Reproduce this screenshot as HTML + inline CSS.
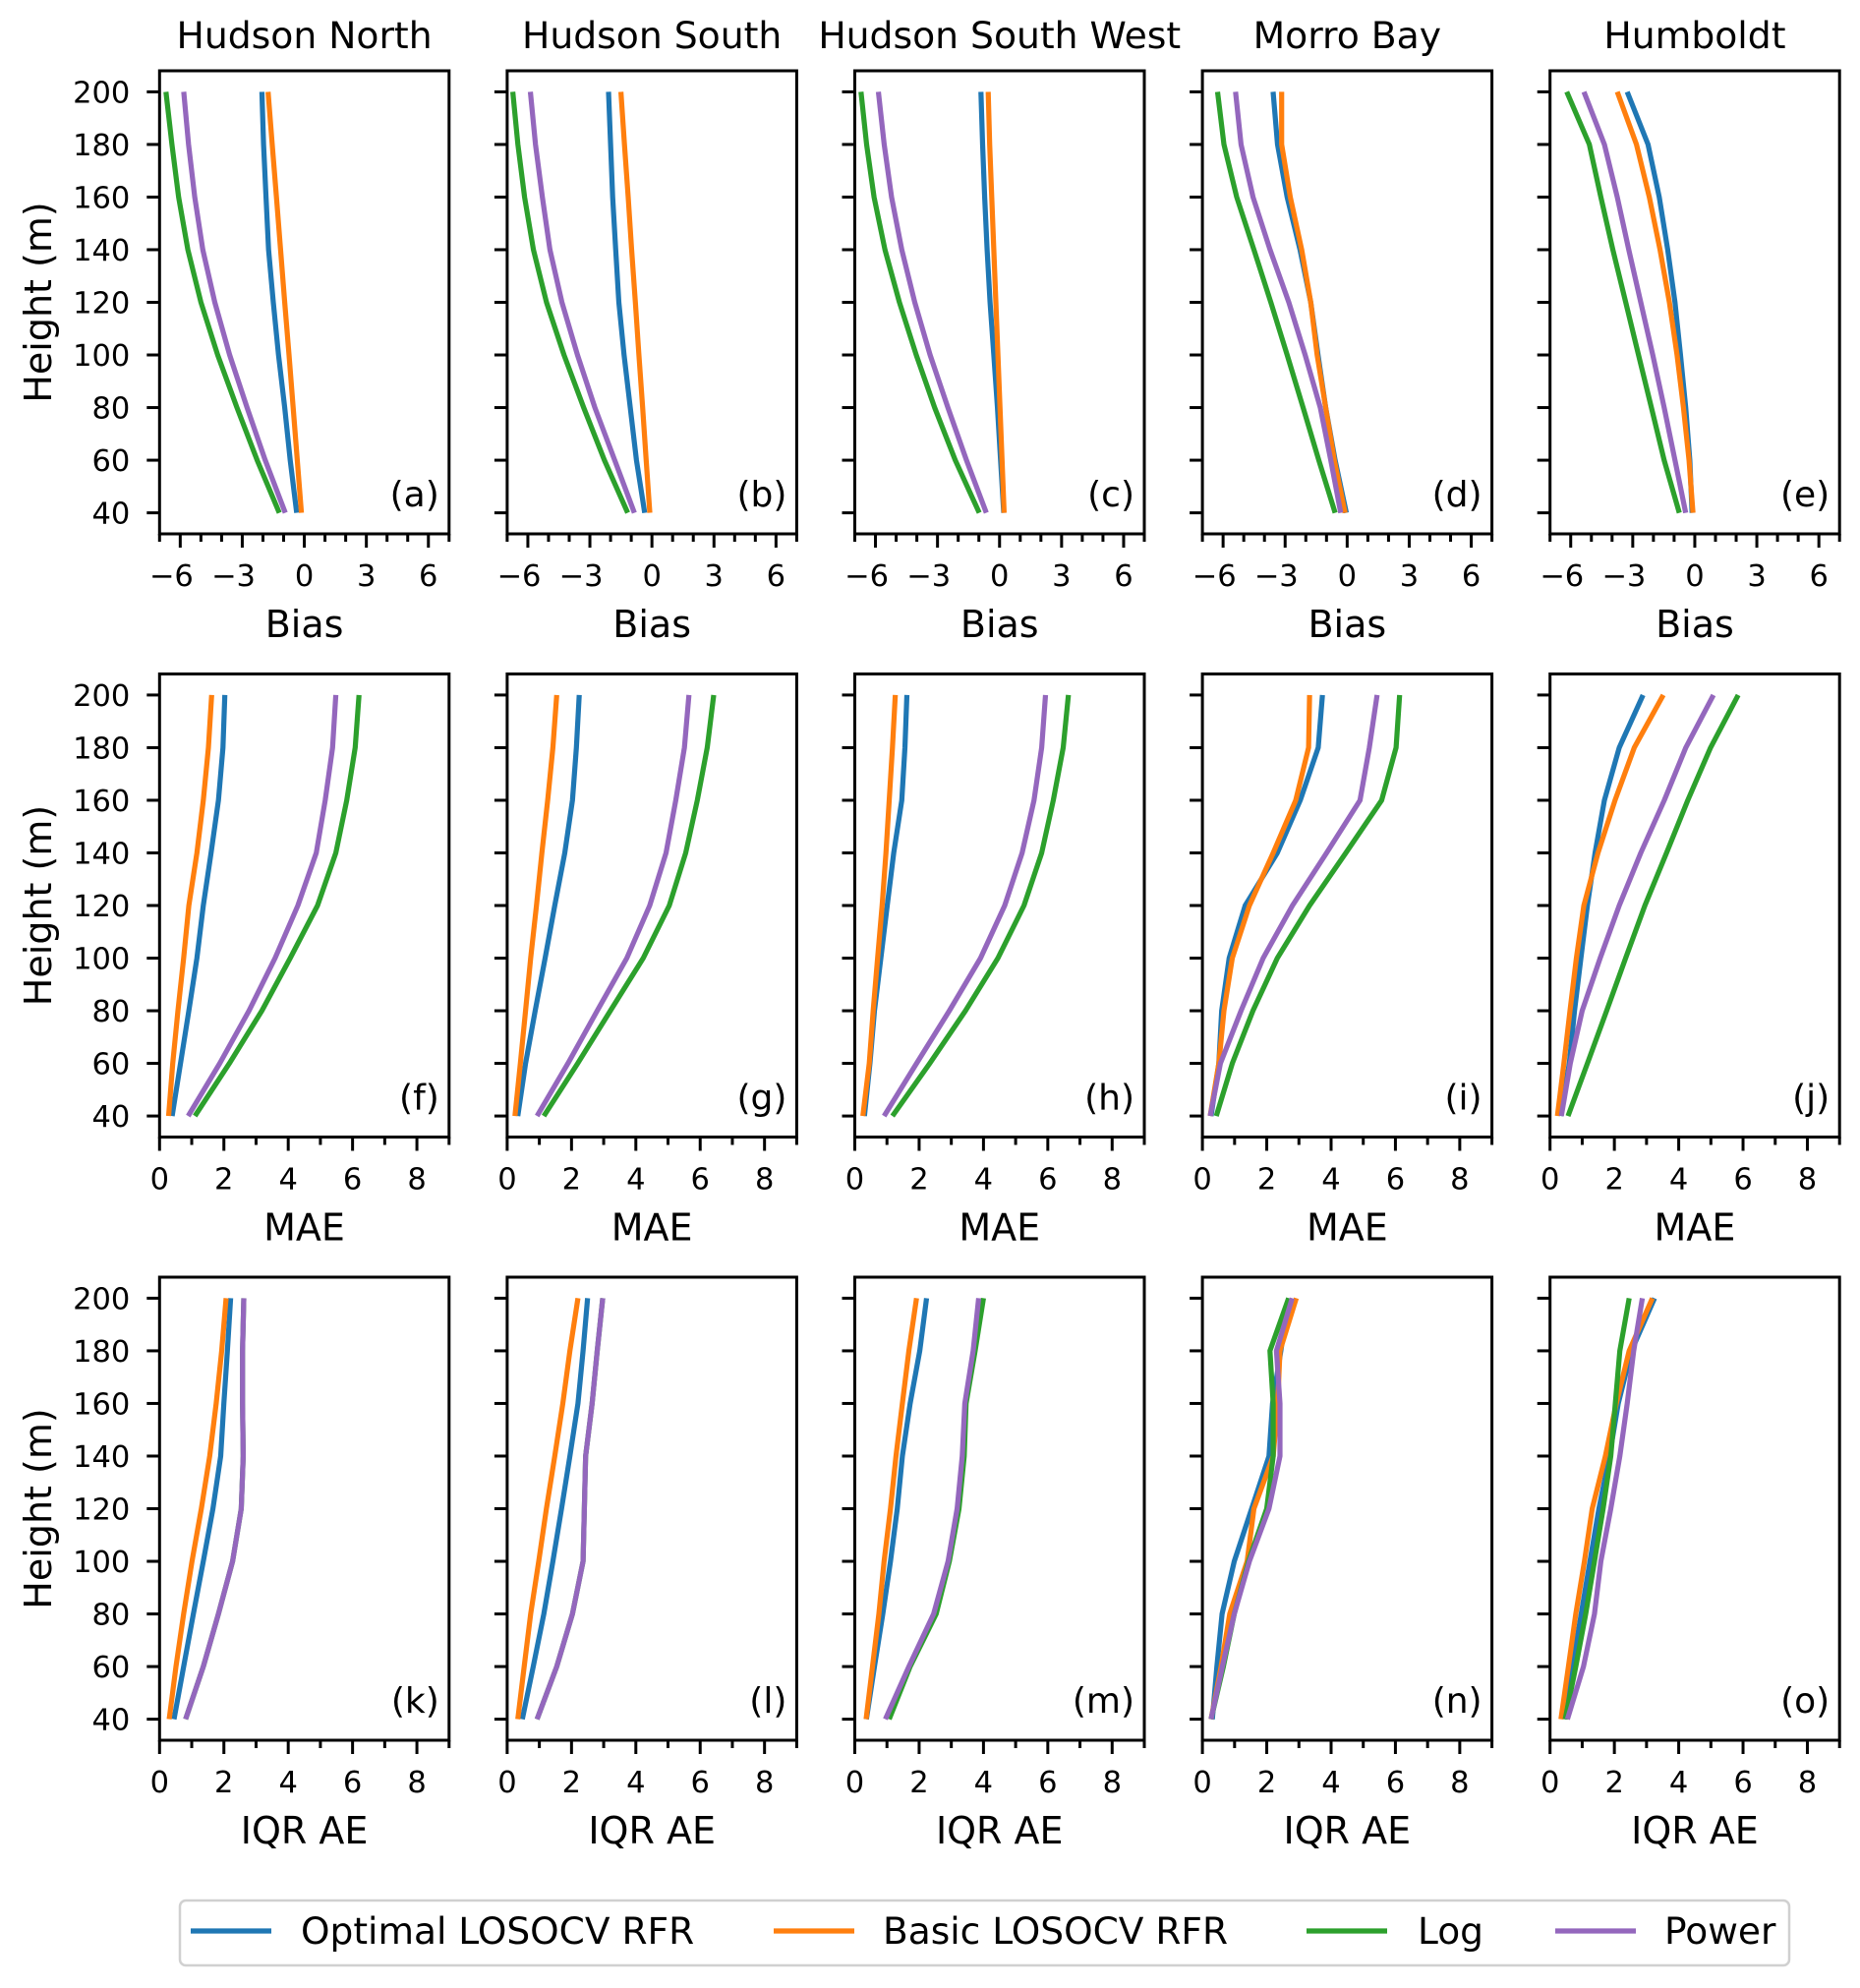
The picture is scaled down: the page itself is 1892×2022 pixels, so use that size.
<!DOCTYPE html>
<html><head><meta charset="utf-8">
<style>
html,body{margin:0;padding:0;background:#fff;}
svg{display:block;font-family:"DejaVu Sans","Liberation Sans",sans-serif;}
</style></head>
<body>
<svg id="fig" width="1892" height="2022" viewBox="0 0 1892 2022" xmlns="http://www.w3.org/2000/svg"></svg>
<script>
// ---- data ----
const heights = [40, 60, 80, 100, 120, 140, 160, 180, 200];
const sites = ["Hudson North", "Hudson South", "Hudson South West", "Morro Bay", "Humboldt"];
const metrics = ["Bias", "MAE", "IQR AE"];
const seriesNames = ["Optimal LOSOCV RFR", "Basic LOSOCV RFR", "Log", "Power"];
const seriesColors = ["#1f77b4", "#ff7f0e", "#2ca02c", "#9467bd"];
const panelLetters = ["a","b","c","d","e","f","g","h","i","j","k","l","m","n","o"];
const biasTicks = [-6, -3, 0, 3, 6];
const aeTicks = [0, 2, 4, 6, 8];
const heightTicks = [40, 60, 80, 100, 120, 140, 160, 180, 200];

// values listed from 40 m up to 200 m
// Bias row
const biasOptimal = [
 [-0.37,-0.68,-0.95,-1.25,-1.5,-1.73,-1.85,-1.97,-2.05],
 [-0.35,-0.75,-1.05,-1.35,-1.6,-1.75,-1.9,-2.0,-2.1],
 [0.2,0.05,-0.1,-0.28,-0.46,-0.6,-0.72,-0.82,-0.9],
 [-0.04,-0.58,-1.04,-1.41,-1.76,-2.28,-2.9,-3.37,-3.58],
 [-0.13,-0.24,-0.44,-0.69,-0.96,-1.31,-1.72,-2.26,-3.27]];
const biasBasic = [
 [-0.14,-0.34,-0.54,-0.74,-0.95,-1.15,-1.35,-1.55,-1.75],
 [-0.1,-0.28,-0.45,-0.63,-0.8,-0.98,-1.15,-1.33,-1.5],
 [0.22,0.12,0.02,-0.08,-0.18,-0.28,-0.38,-0.48,-0.55],
 [-0.1,-0.62,-1.04,-1.45,-1.76,-2.2,-2.75,-3.17,-3.17],
 [-0.09,-0.28,-0.55,-0.86,-1.23,-1.68,-2.2,-2.82,-3.75]];
const biasLog = [
 [-1.21,-2.28,-3.26,-4.19,-5.0,-5.63,-6.08,-6.4,-6.69],
 [-1.17,-2.3,-3.3,-4.25,-5.1,-5.73,-6.16,-6.48,-6.73],
 [-0.98,-2.14,-3.14,-4.03,-4.84,-5.54,-6.07,-6.43,-6.7],
 [-0.58,-1.37,-2.13,-2.9,-3.69,-4.51,-5.34,-5.96,-6.27],
 [-0.75,-1.48,-2.1,-2.72,-3.34,-3.96,-4.54,-5.1,-6.19]];
const biasPower = [
 [-0.92,-1.89,-2.77,-3.61,-4.33,-4.91,-5.3,-5.6,-5.83],
 [-0.85,-1.8,-2.76,-3.6,-4.35,-4.93,-5.3,-5.63,-5.88],
 [-0.64,-1.6,-2.5,-3.36,-4.1,-4.73,-5.22,-5.58,-5.86],
 [-0.31,-0.79,-1.3,-2.03,-2.82,-3.73,-4.55,-5.13,-5.4],
 [-0.44,-0.96,-1.48,-2.03,-2.61,-3.19,-3.75,-4.37,-5.36]];
// MAE row
const maeOptimal = [
 [0.39,0.65,0.91,1.16,1.36,1.6,1.83,1.97,2.03],
 [0.33,0.57,0.87,1.18,1.48,1.79,2.03,2.15,2.24],
 [0.3,0.47,0.61,0.81,1.01,1.21,1.46,1.56,1.62],
 [0.27,0.51,0.6,0.83,1.33,2.33,3.04,3.6,3.73],
 [0.33,0.6,0.76,0.96,1.16,1.4,1.69,2.15,2.89]];
const maeBasic = [
 [0.28,0.41,0.57,0.75,0.91,1.16,1.36,1.52,1.62],
 [0.24,0.41,0.57,0.73,0.91,1.08,1.26,1.42,1.54],
 [0.25,0.45,0.57,0.71,0.85,0.97,1.07,1.17,1.26],
 [0.24,0.51,0.67,0.93,1.46,2.2,2.9,3.3,3.33],
 [0.23,0.43,0.62,0.82,1.05,1.49,2.02,2.62,3.52]];
const maeLog = [
 [1.1,2.17,3.18,4.06,4.91,5.48,5.82,6.08,6.2],
 [1.14,2.19,3.21,4.23,5.04,5.55,5.91,6.22,6.42],
 [1.17,2.33,3.44,4.45,5.26,5.81,6.17,6.48,6.64],
 [0.43,0.93,1.57,2.33,3.33,4.46,5.57,6.02,6.13],
 [0.56,1.16,1.76,2.35,2.95,3.62,4.28,4.99,5.85]];
const maePower = [
 [0.89,1.87,2.78,3.59,4.3,4.87,5.15,5.38,5.48],
 [0.93,1.89,2.8,3.72,4.43,4.94,5.24,5.51,5.65],
 [0.91,1.92,2.94,3.91,4.66,5.2,5.57,5.81,5.93],
 [0.24,0.56,1.2,1.89,2.8,3.86,4.9,5.19,5.43],
 [0.35,0.63,1.0,1.56,2.15,2.82,3.55,4.22,5.08]];
// IQR AE row
const iqrOptimal = [
 [0.45,0.75,1.05,1.36,1.66,1.9,2.0,2.11,2.21],
 [0.47,0.81,1.14,1.42,1.69,1.95,2.2,2.36,2.5],
 [0.36,0.61,0.87,1.11,1.32,1.48,1.72,2.02,2.23],
 [0.31,0.45,0.61,0.99,1.53,2.07,2.18,2.44,2.68],
 [0.43,0.7,0.97,1.24,1.52,1.85,2.12,2.53,3.25]];
const iqrBasic = [
 [0.3,0.51,0.75,1.01,1.3,1.56,1.76,1.93,2.07],
 [0.33,0.53,0.73,0.98,1.22,1.48,1.73,1.95,2.2],
 [0.35,0.55,0.75,0.91,1.11,1.28,1.48,1.68,1.92],
 [0.27,0.58,0.85,1.39,1.6,2.2,2.34,2.41,2.92],
 [0.34,0.57,0.8,1.07,1.31,1.72,2.06,2.46,3.18]];
const iqrLog = [
 [0.81,1.36,1.83,2.27,2.54,2.6,2.58,2.58,2.62],
 [0.93,1.54,2.03,2.36,2.4,2.44,2.64,2.8,2.97],
 [1.07,1.72,2.53,2.94,3.24,3.4,3.46,3.74,4.0],
 [0.27,0.65,0.99,1.43,2.0,2.2,2.2,2.1,2.68],
 [0.47,0.8,1.11,1.38,1.65,1.89,2.03,2.17,2.46]];
const iqrPower = [
 [0.81,1.36,1.83,2.27,2.54,2.6,2.58,2.58,2.62],
 [0.93,1.54,2.03,2.36,2.4,2.44,2.64,2.8,2.97],
 [0.95,1.68,2.45,2.9,3.18,3.34,3.42,3.68,3.85],
 [0.27,0.62,0.99,1.46,2.07,2.41,2.41,2.3,2.79],
 [0.54,1.04,1.38,1.58,1.89,2.17,2.4,2.6,2.87]];

const rowData = [
  [biasOptimal, biasBasic, biasLog, biasPower],
  [maeOptimal, maeBasic, maeLog, maePower],
  [iqrOptimal, iqrBasic, iqrLog, iqrPower]];

// ---- layout ----
const NS = "http://www.w3.org/2000/svg";
const svg = document.getElementById("fig");
const L0 = 162.3, COLSTEP = 353.6, W = 294.5;
const rowTops = [72, 685.5, 1299];
const H = 471;
const YMIN = 32, YMAX = 208;

function mk(tag, attrs, parent, text) {
  const e = document.createElementNS(NS, tag);
  for (const k in attrs) e.setAttribute(k, attrs[k]);
  if (text !== undefined) e.textContent = text;
  (parent || svg).appendChild(e);
  return e;
}

for (let r = 0; r < 3; r++) {
  const xmin = r === 0 ? -7 : 0, xmax = r === 0 ? 7 : 9;
  const majors = r === 0 ? biasTicks : aeTicks;
  for (let c = 0; c < 5; c++) {
    const left = L0 + c * COLSTEP, top = rowTops[r];
    const xs = v => left + (v - xmin) / (xmax - xmin) * W;
    const ys = h => top + (YMAX - h) / (YMAX - YMIN) * H;
    const g = mk("g", {});
    
    

    const sers = rowData[r];
    for (let s = 0; s < 4; s++) {
      const vals = sers[s][c];
      const pts = vals.map((v, i) => xs(v).toFixed(1) + "," + ys(heights[i]).toFixed(1)).join(" ");
      const pl = mk("polyline", {points: pts, fill: "none", stroke: seriesColors[s], "stroke-width": 5.2, "stroke-linejoin": "round"}, g);
      
      
    }
    const fr = mk("rect", {x: left, y: top, width: W, height: H, fill: "none", stroke: "#000", "stroke-width": 3}, g);
    
    
    heightTicks.forEach(h => {
      const y = ys(h);
      mk("line", {x1: left - 13, x2: left, y1: y, y2: y, stroke: "#000", "stroke-width": 3}, g);
      if (c === 0) {
        const t = mk("text", {x: left - 30, y: y + 11, "font-size": 30.5, "text-anchor": "end"}, g, String(h));
        
        
      }
    });
    const bottom = top + H;
    for (let v = xmin; v <= xmax; v++) {
      const isMajor = majors.indexOf(v) >= 0;
      mk("line", {x1: xs(v), x2: xs(v), y1: bottom, y2: bottom + (isMajor ? 14 : 8), stroke: "#000", "stroke-width": 3}, g);
    }
    majors.forEach(v => {
      const lab = v < 0 ? "\u2212" + Math.abs(v) : String(v);
      const t = mk("text", {x: xs(v) - (v < 0 ? 9 : 0), y: bottom + 53, "font-size": 30.5, "text-anchor": "middle"}, g, lab);
      
      
    });
    const xl = mk("text", {x: left + W / 2, y: bottom + 105, "font-size": 38, "text-anchor": "middle"}, g, metrics[r]);
    
    
    const lt = mk("text", {x: left + W - 10, y: top + 443, "font-size": 36, "text-anchor": "end"}, g, "(" + panelLetters[r*5+c] + ")");
    
    
    if (r === 0) {
      const tt = mk("text", {x: left + W / 2, y: 49, "font-size": 37.7, "text-anchor": "middle"}, g, sites[c]);
      
      
    }
    if (c === 0) {
      const cy = top + H / 2;
      const yl = mk("text", {x: 52, y: cy, "font-size": 38, "text-anchor": "middle", transform: "rotate(-90 52 " + cy + ")"}, g, "Height (m)");
      
      
    }
  }
}

// ---- legend ----
const lg = mk("g", {});


mk("rect", {x: 183, y: 1933, width: 1637, height: 66, rx: 6, fill: "#fff", stroke: "#d0d0d0", "stroke-width": 2.5}, lg);
const legLineX = [194, 787, 1329, 1582];
const legTextX = [306, 898, 1442, 1693];
for (let s = 0; s < 4; s++) {
  const ln = mk("line", {x1: legLineX[s], x2: legLineX[s] + 82, y1: 1964, y2: 1964, stroke: seriesColors[s], "stroke-width": 5.2}, lg);
  
  
  const tx = mk("text", {x: legTextX[s], y: 1977, "font-size": 37.5}, lg, seriesNames[s]);
  
  
}
</script>
</body></html>
